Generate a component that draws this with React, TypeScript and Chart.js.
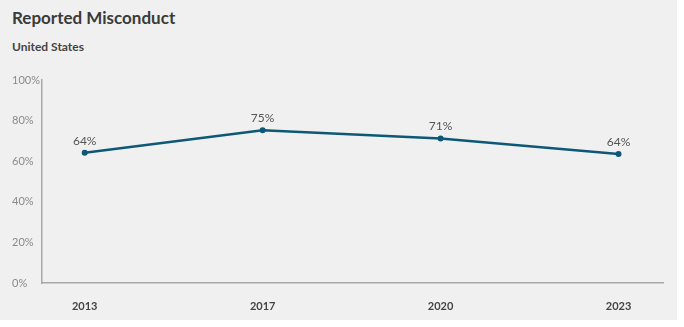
import React, { useEffect, useRef } from "react";
import { Chart, registerables } from "chart.js";

Chart.register(...registerables);

const years = ["2013", "2017", "2020", "2023"];
const misconduct = [64.2, 75.2, 71.2, 63.6];
const yTicks = [0, 20, 40, 60, 80, 100];

const FONT = "Lato, 'Open Sans', sans-serif";
const LINE = "#0e5877";

const labelPlugin = {
  id: "pointLabels",
  afterDatasetsDraw(chart: any) {
    const ctx = chart.ctx;
    const meta = chart.getDatasetMeta(0);
    ctx.save();
    ctx.font = `400 12px ${FONT}`;
    ctx.fillStyle = "#555555";
    ctx.textAlign = "center";
    ctx.textBaseline = "alphabetic";
    meta.data.forEach((pt: any, i: number) => {
      ctx.fillText(`${Math.round(misconduct[i])}%`, pt.x, pt.y - 8);
    });
    ctx.restore();
  },
};

export default function App() {
  const ref = useRef<HTMLCanvasElement>(null);
  useEffect(() => {
    if (!ref.current) return;
    const chart = new Chart(ref.current, {
      type: "line",
      data: {
        datasets: [
          {
            data: misconduct.map((v, i) => ({ x: i, y: v })),
            borderColor: LINE,
            backgroundColor: LINE,
            borderWidth: 2.5,
            pointRadius: 3,
            pointBackgroundColor: LINE,
            pointBorderWidth: 0,
            tension: 0,
          },
        ],
      },
      options: {
        animation: false,
        responsive: false,
        maintainAspectRatio: false,
        layout: { padding: { left: 12, right: 14, top: 80, bottom: 0 } },
        plugins: { legend: { display: false }, tooltip: { enabled: false }, title: { display: false } },
        scales: {
          x: {
            type: "linear",
            min: -0.24,
            max: 3.25,
            grid: { display: false, drawTicks: false },
            border: { display: true, color: "#a8a8a8", width: 1.5 },
            afterBuildTicks: (s: any) => {
              s.ticks = years.map((_, i) => ({ value: i }));
            },
            afterFit: (s: any) => {
              s.height = 37;
            },
            ticks: {
              padding: 17,
              autoSkip: false,
              maxRotation: 0,
              color: "#444444",
              font: { family: FONT, size: 11, weight: "bold" },
              callback: (v: any) => years[v] ?? "",
            },
          },
          y: {
            min: 0,
            max: 100,
            grid: { display: false, drawTicks: false },
            border: { display: true, color: "#a8a8a8", width: 1.5 },
            afterBuildTicks: (s: any) => {
              s.ticks = yTicks.map((v) => ({ value: v }));
            },
            afterFit: (s: any) => {
              s.width = 30;
            },
            ticks: {
              crossAlign: "far",
              padding: 4,
              color: "#8a8a8a",
              font: { family: FONT, size: 11 },
              callback: (v: any) => `${v}%`,
            },
          },
        },
      },
      plugins: [labelPlugin],
    });
    return () => chart.destroy();
  }, []);

  return (
    <div
      style={{
        position: "absolute",
        left: 0,
        top: 0,
        width: 677,
        height: 320,
        background: "#f0f0f0",
      }}
    >
      <div
        style={{
          position: "absolute",
          left: 12,
          top: 7,
          fontFamily: FONT,
          fontWeight: 700,
          fontSize: 17,
          color: "#3a3a3a",
          whiteSpace: "nowrap",
        }}
      >
        Reported Misconduct
      </div>
      <div
        style={{
          position: "absolute",
          left: 12,
          top: 39,
          fontFamily: FONT,
          fontWeight: 700,
          fontSize: 12,
          color: "#444444",
          whiteSpace: "nowrap",
        }}
      >
        United States
      </div>
      <canvas
        ref={ref}
        width={677}
        height={320}
        style={{ position: "absolute", left: 0, top: 0, width: 677, height: 320 }}
      />
    </div>
  );
}
